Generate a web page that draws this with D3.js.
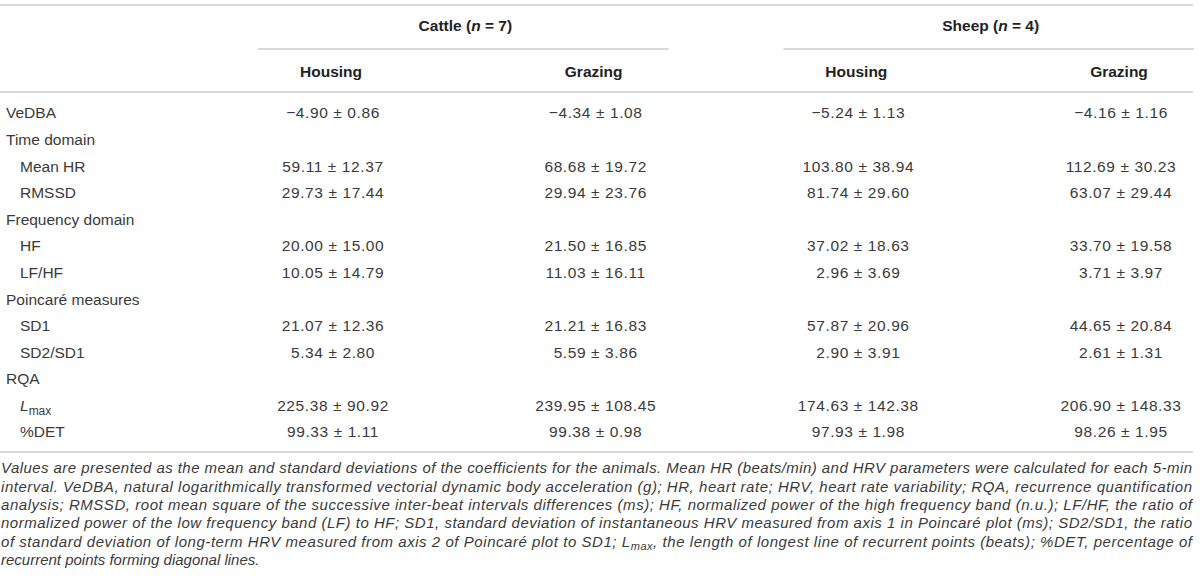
<!DOCTYPE html>
<html>
<head>
<meta charset="utf-8">
<script src="https://cdn.jsdelivr.net/npm/d3@7.9.0/dist/d3.min.js"></script>
<style>
  html, body { margin: 0; padding: 0; background: #fff; }
  svg { display: block; font-family: "Liberation Sans", Arial, sans-serif; }
</style>
</head>
<body>
<svg id="table" width="1200" height="588"></svg>
<script>
// table data
const groups = ['Cattle', 'Sheep'];
const groupN = [7, 4];
const conditions = ['Housing', 'Grazing'];

const rowLabels = ['VeDBA', 'Time domain', 'Mean HR', 'RMSSD', 'Frequency domain', 'HF', 'LF/HF',
  'Poincaré measures', 'SD1', 'SD2/SD1', 'RQA', 'Lmax', '%DET'];
const rowIndent = [0, 0, 1, 1, 0, 1, 1, 0, 1, 1, 0, 1, 1];

// mean and sd per column (null = section heading row)
const cattleHousingMean = [-4.90, null, 59.11, 29.73, null, 20.00, 10.05, null, 21.07, 5.34, null, 225.38, 99.33];
const cattleHousingSd   = [0.86, null, 12.37, 17.44, null, 15.00, 14.79, null, 12.36, 2.80, null, 90.92, 1.11];
const cattleGrazingMean = [-4.34, null, 68.68, 29.94, null, 21.50, 11.03, null, 21.21, 5.59, null, 239.95, 99.38];
const cattleGrazingSd   = [1.08, null, 19.72, 23.76, null, 16.85, 16.11, null, 16.83, 3.86, null, 108.45, 0.98];
const sheepHousingMean  = [-5.24, null, 103.80, 81.74, null, 37.02, 2.96, null, 57.87, 2.90, null, 174.63, 97.93];
const sheepHousingSd    = [1.13, null, 38.94, 29.60, null, 18.63, 3.69, null, 20.96, 3.91, null, 142.38, 1.98];
const sheepGrazingMean  = [-4.16, null, 112.69, 63.07, null, 33.70, 3.71, null, 44.65, 2.61, null, 206.90, 98.26];
const sheepGrazingSd    = [1.16, null, 30.23, 29.44, null, 19.58, 3.97, null, 20.84, 1.31, null, 148.33, 1.95];

const captionLines = [
  'Values are presented as the mean and standard deviations of the coefficients for the animals. Mean HR (beats/min) and HRV parameters were calculated for each 5-min',
  'interval. VeDBA, natural logarithmically transformed vectorial dynamic body acceleration (g); HR, heart rate; HRV, heart rate variability; RQA, recurrence quantification',
  'analysis; RMSSD, root mean square of the successive inter-beat intervals differences (ms); HF, normalized power of the high frequency band (n.u.); LF/HF, the ratio of',
  'normalized power of the low frequency band (LF) to HF; SD1, standard deviation of instantaneous HRV measured from axis 1 in Poincaré plot (ms); SD2/SD1, the ratio',
  'of standard deviation of long-term HRV measured from axis 2 of Poincaré plot to SD1; L|max|, the length of longest line of recurrent points (beats); %DET, percentage of',
  'recurrent points forming diagonal lines.'
];

const columns = [
  { mean: cattleHousingMean, sd: cattleHousingSd },
  { mean: cattleGrazingMean, sd: cattleGrazingSd },
  { mean: sheepHousingMean, sd: sheepHousingSd },
  { mean: sheepGrazingMean, sd: sheepGrazingSd }
];

const svg = d3.select('#table');
const fmt = d3.format('.2f');
const ruleColor = '#d9d9d9';
const bodyColor = '#3a3a3a';

const x = d3.scalePoint().domain(d3.range(columns.length)).range([333, 1121]);
const y = d3.scalePoint().domain(d3.range(rowLabels.length)).range([113, 432]);

function rule(x1, x2, yy) {
  svg.append('line')
    .attr('x1', x1).attr('x2', x2).attr('y1', yy).attr('y2', yy)
    .attr('stroke', ruleColor).attr('stroke-width', 2);
}

// horizontal rules
rule(0, 1193, 5);
rule(0, 1193, 92);
rule(0, 1193, 452);

// group headers
groups.forEach((g, gi) => {
  const a = x(gi * 2), b = x(gi * 2 + 1);
  rule(a - 75, b + 73, 49);
  const t = svg.append('text')
    .attr('x', (a + b) / 2 + 1).attr('y', 26).attr('dy', '0.35em')
    .attr('text-anchor', 'middle')
    .attr('font-size', 15.5).attr('font-weight', 'bold').attr('fill', '#222');
  t.append('tspan').text(`${g} (`);
  t.append('tspan').attr('font-style', 'italic').text('n');
  t.append('tspan').text(` = ${groupN[gi]})`);
});

// condition headers
columns.forEach((c, i) => {
  svg.append('text')
    .attr('x', x(i) - 2).attr('y', 72).attr('dy', '0.35em')
    .attr('text-anchor', 'middle')
    .attr('font-size', 15.5).attr('font-weight', 'bold').attr('fill', '#222')
    .text(conditions[i % 2]);
});

// row labels
rowLabels.forEach((label, r) => {
  const t = svg.append('text')
    .attr('x', rowIndent[r] ? 20 : 6).attr('y', y(r)).attr('dy', '0.35em')
    .attr('font-size', 15.5).attr('fill', bodyColor);
  if (label === 'Lmax') {
    t.append('tspan').attr('font-style', 'italic').text('L');
    t.append('tspan').attr('font-size', 12).attr('dy', 4).text('max');
  } else {
    t.text(label);
  }
});

// cell values
columns.forEach((c, i) => {
  svg.selectAll(null)
    .data(c.mean.map((m, r) => ({ m, s: c.sd[r], r })).filter(d => d.m !== null))
    .join('text')
    .attr('x', x(i)).attr('y', d => y(d.r)).attr('dy', '0.35em')
    .attr('text-anchor', 'middle')
    .attr('font-size', 15.5).attr('letter-spacing', 0.6).attr('fill', bodyColor)
    .text(d => `${fmt(d.m)} ± ${fmt(d.s)}`);
});

// caption (justified)
captionLines.forEach((line, i) => {
  const t = svg.append('text')
    .attr('x', 1).attr('y', 468 + i * 18.4).attr('dy', '0.35em')
    .attr('font-size', 15).attr('font-style', 'italic').attr('fill', bodyColor);
  if (i < captionLines.length - 1) {
    t.attr('textLength', 1191).attr('lengthAdjust', 'spacing');
  }
  line.split('|').forEach((part, k) => {
    const sp = t.append('tspan').text(part);
    if (k === 1) sp.attr('font-size', 11).attr('dy', 3);
    if (k === 2) sp.attr('dy', -3);
  });
});
</script>
</body>
</html>
